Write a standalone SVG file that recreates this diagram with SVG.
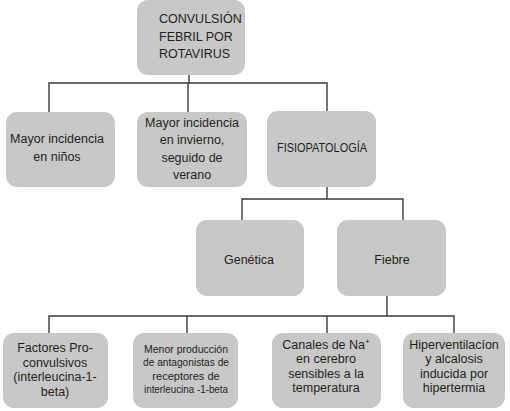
<svg xmlns="http://www.w3.org/2000/svg" width="510" height="411" viewBox="0 0 510 411">
<style>
.box{fill:#c8c8c8;}
.t{font-family:"Liberation Sans",Arial,sans-serif;font-size:12.5px;fill:#231f20;text-anchor:middle;}
.s{font-size:11px;}
.l{text-anchor:start;}
.c{fill:none;stroke:#3a3a3a;stroke-width:1.4;}
</style>
<rect width="510" height="411" fill="#fff"/>
<g id="connectors">
<path class="c" d="M189 75V83M49 112V83H327V111M188 83V112"/>
<path class="c" d="M327 187V199M242 220V199H403V220"/>
<path class="c" d="M387 296V316M49 333V316H454V333M187 316V333M327 316V333"/>
</g>
<g id="n0"><rect class="box" x="137" y="0" width="108" height="75" rx="11"/>
<text class="t l" x="159" y="23">CONVULSIÓN</text><text class="t l" x="159" y="41">FEBRIL POR</text><text class="t l" x="159" y="58">ROTAVIRUS</text></g>
<g id="n1"><rect class="box" x="6" y="112" width="109" height="75" rx="11"/>
<text class="t" x="57" y="143">Mayor incidencia</text><text class="t" x="57" y="161">en niños</text></g>
<g id="n2"><rect class="box" x="137" y="112" width="110" height="75" rx="11"/>
<text class="t" x="192" y="127">Mayor incidencia</text><text class="t" x="192" y="144">en invierno,</text><text class="t" x="192" y="162">seguido de</text><text class="t" x="192" y="179">verano</text></g>
<g id="n3"><rect class="box" x="267" y="111" width="109" height="76" rx="11"/>
<text class="t" x="322" y="152" textLength="90" lengthAdjust="spacingAndGlyphs">FISIOPATOLOGÍA</text></g>
<g id="n4"><rect class="box" x="196" y="220" width="108" height="76" rx="11"/>
<text class="t" x="249" y="264">Genética</text></g>
<g id="n5"><rect class="box" x="337" y="220" width="109" height="76" rx="11"/>
<text class="t" x="392" y="264">Fiebre</text></g>
<g id="n6"><rect class="box" x="3" y="333" width="105" height="75" rx="11"/>
<text class="t" x="55" y="352">Factores Pro-</text><text class="t" x="55" y="367">convulsivos</text><text class="t" x="55" y="381">(interleucina-1-</text><text class="t" x="55" y="396">beta)</text></g>
<g id="n7"><rect class="box" x="133" y="333" width="105" height="75" rx="11"/>
<text class="t s" x="186" y="353" textLength="84" lengthAdjust="spacingAndGlyphs">Menor producción</text><text class="t s" x="186" y="366" textLength="86" lengthAdjust="spacingAndGlyphs">de antagonistas de</text><text class="t s" x="186" y="380">receptores de</text><text class="t s" x="186" y="393" textLength="84" lengthAdjust="spacingAndGlyphs">interleucina -1-beta</text></g>
<g id="n8"><rect class="box" x="272" y="333" width="109" height="75" rx="11"/>
<text class="t" x="326" y="349">Canales de Na<tspan font-size="8" dy="-5">+</tspan></text><text class="t" x="326" y="363">en cerebro</text><text class="t" x="326" y="378">sensibles a la</text><text class="t" x="326" y="392">temperatura</text></g>
<g id="n9"><rect class="box" x="403" y="333" width="102" height="75" rx="11"/>
<text class="t" x="454" y="349">Hiperventilacíon</text><text class="t" x="454" y="363">y alcalosis</text><text class="t" x="454" y="378">inducida por</text><text class="t" x="454" y="392">hipertermia</text></g>
</svg>
